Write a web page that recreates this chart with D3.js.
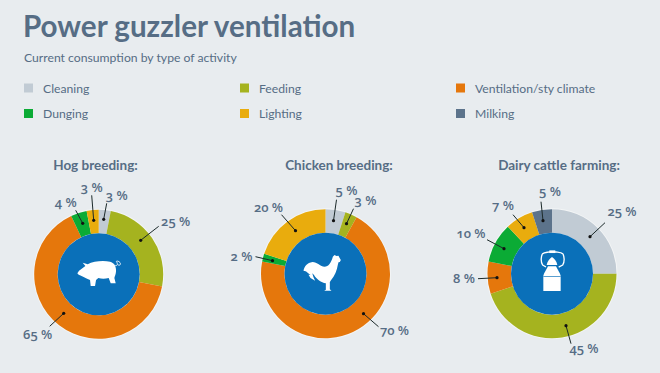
<!DOCTYPE html>
<html><head>
<meta charset="utf-8">
<title>Power guzzler ventilation</title>
<script src="https://d3js.org/d3.v7.min.js"></script>
<style>
  body { margin: 0; background: #e8ecef; }
  text { font-family: Lato, "Open Sans", sans-serif; fill: #566d85; }
  .title { font-size: 29.6px; font-weight: 700; }
  .subtitle { font-size: 12.2px; }
  .legend text { font-size: 12.2px; }
  .chart-title { font-size: 13.5px; font-weight: 700; text-anchor: middle; }
  /* old style numerals like the original, only Open Sans has them here */
  .pct { font-family: "Open Sans", sans-serif; font-feature-settings: "onum"; font-size: 13px; font-weight: 600; text-anchor: middle; }
</style>
</head>
<body>
<svg id="chart" width="660" height="373"></svg>
<script>
const categories = ["Cleaning", "Feeding", "Ventilation/sty climate", "Dunging", "Lighting", "Milking"];
const colors = ["#c1cbd4", "#a5b31f", "#e5770c", "#0bab35", "#e9ac0d", "#5c738b"];

const farmNames = ["Hog breeding:", "Chicken breeding:", "Dairy cattle farming:"];
const hogValues = [3, 25, 65, 4, 3, 0];
const chickenValues = [5, 3, 70, 2, 20, 0];
const dairyValues = [25, 45, 8, 10, 7, 5];

// donut centres and title x
const centers = [[98.7, 274.3], [325.5, 273.7], [552, 273.7]];
const titleX = [95.5, 339, 559];

// leader lines per slice (same order as categories), in px from the donut centre:
// [dot x, dot y, line end x, line end y, label x, label y]
const hogLeaders = [
  [5, -55, 8, -71, 18, -79],
  [42, -34, 60, -48, 77, -53],
  [-35, 39, -49, 52, -61, 60],
  [-16, -51, -23, -64, -33, -72],
  [-5, -54, -7, -79, -7, -87]
];
const chickenLeaders = [
  [8, -53, 11, -74, 21, -83],
  [21, -50, 28, -65, 40, -73],
  [38, 40, 53, 53, 69, 57],
  [-53, -13, -70, -17, -84, -17],
  [-30, -43, -44, -59, -57, -66]
];
const dairyLeaders = [
  [38, -37, 53, -51, 70, -62],
  [14, 52, 19, 70, 32, 75],
  [-55, 4, -74, 5, -88, 5],
  [-48, -25, -65, -34, -81, -40],
  [-28, -46, -39, -59, -49, -68],
  [-9, -53, -11, -72, -2, -82]
];

// white icons, traced at 3x from crops of the picture
const pigIcon = "M22 70 L27 62 L38 54 L46 48 L38 38 L53 43 C70 33 100 31 120 35 C132 38 138 48 138 62 C138 72 134 78 133 84 L137 100 L122 100 L116 84 C105 87 95 87 85 84 L78 90 L75 108 L62 108 L60 90 C50 86 42 82 36 79 C30 76 24 75 22 70 Z";
const roosterIcon = "M113 20 L118 15 L124 18 L130 17 L133 23 L137 30 L134 36 L130 37 L128 44 C126 60 118 78 108 90 L104 96 L104 118 L109 122 L87 122 L92 119 L92 100 C78 98 64 88 57 76 C52 68 47 66 40 66 L25 62 C27 50 36 38 52 36 C66 36 76 50 88 50 C100 50 108 38 113 20 Z M30 62 L50 66 L55 82 L42 72 Z M40 74 L52 76 L60 92 L46 84 Z";
const canLid = "M50 60 C52 48 60 40 66 36 C72 40 80 48 82 60 Z";
const canBody = "M40 138 L40 92 C42 84 48 76 54 64 L78 64 C84 76 90 84 92 92 L92 138 Z";
const canHandle = "M48 66 L38 60 C32 52 32 34 38 26 C42 22 50 22 56 21 L78 21 C86 22 94 22 98 26 C104 34 104 52 98 60 L86 66";

const svg = d3.select("svg#chart");

svg.append("rect").attr("width", 660).attr("height", 373).attr("fill", "#e8ecef");

svg.append("text").attr("class", "title").attr("x", 23).attr("y", 37).text("Power guzzler ventilation");
svg.append("text").attr("class", "subtitle").attr("x", 24).attr("y", 62).text("Current consumption by type of activity");

// legend is 3 columns, 2 rows, filled left to right
const legendX = d3.scalePoint().domain([0, 1, 2]).range([24, 456]);
const legendY = d3.scalePoint().domain([0, 1]).range([88, 113.5]);
const legend = svg.append("g").attr("class", "legend");
categories.forEach((name, i) => {
  const x = legendX(i % 3);
  const y = legendY(Math.floor(i / 3));
  legend.append("rect")
    .attr("x", x).attr("y", y - 4.5)
    .attr("width", 9).attr("height", 9)
    .attr("fill", colors[i]);
  legend.append("text")
    .attr("x", x + 19).attr("y", y + 4.5)
    .text(name);
});

const pie = d3.pie().sort(null).value(d => d);
const arc = d3.arc().innerRadius(41).outerRadius(64.5);
const allValues = [hogValues, chickenValues, dairyValues];
const allLeaders = [hogLeaders, chickenLeaders, dairyLeaders];

allValues.forEach((values, f) => {
  svg.append("text").attr("class", "chart-title")
    .attr("x", titleX[f]).attr("y", 170)
    .text(farmNames[f]);

  const donut = svg.append("g")
    .attr("transform", "translate(" + centers[f][0] + "," + centers[f][1] + ")");

  // faint light rim round the ring
  donut.append("circle").attr("r", 65.5).attr("fill", "#f3f5f6");

  donut.selectAll("path.slice")
    .data(pie(values))
    .join("path")
    .attr("class", "slice")
    .attr("d", arc)
    .attr("fill", (d, i) => colors[i]);

  donut.append("circle").attr("r", 41).attr("fill", "#0a70b9");

  values.forEach((v, i) => {
    if (v === 0) return;
    const l = allLeaders[f][i];
    donut.append("line")
      .attr("x1", l[0]).attr("y1", l[1]).attr("x2", l[2]).attr("y2", l[3])
      .attr("stroke", "#1c2a2a").attr("stroke-width", 1);
    donut.append("circle").attr("cx", l[0]).attr("cy", l[1]).attr("r", 1.6).attr("fill", "#111");
    donut.append("text").attr("class", "pct")
      .attr("x", l[4]).attr("y", l[5] + 4.5)
      .text(v + " %");
  });

  // icons
  const icon = donut.append("g");
  if (f === 0) {
    icon.attr("transform", "scale(0.3333) translate(-86,-73)");
    icon.append("path").attr("d", pigIcon).attr("fill", "#fff");
    icon.append("path").attr("d", "M134 46 C142 50 144 42 140 36 C136 32 146 32 150 38 C154 44 148 48 143 44")
      .attr("fill", "none").attr("stroke", "#fff").attr("stroke-width", 2.5);
  } else if (f === 1) {
    icon.attr("transform", "scale(0.3333) translate(-91,-71)");
    icon.append("path").attr("d", roosterIcon).attr("fill", "#fff");
  } else {
    icon.attr("transform", "scale(0.3333) translate(-66,-86)");
    icon.append("path").attr("d", canLid).attr("fill", "#fff");
    icon.append("path").attr("d", canBody).attr("fill", "#fff");
    icon.append("path").attr("d", canHandle).attr("fill", "none").attr("stroke", "#fff").attr("stroke-width", 4);
    icon.append("rect").attr("x", 58).attr("y", 16).attr("width", 18).attr("height", 8).attr("fill", "#fff");
    icon.append("rect").attr("x", 40).attr("y", 93).attr("width", 52).attr("height", 2).attr("fill", "#0a70b9");
  }
});
</script>
</body>
</html>
